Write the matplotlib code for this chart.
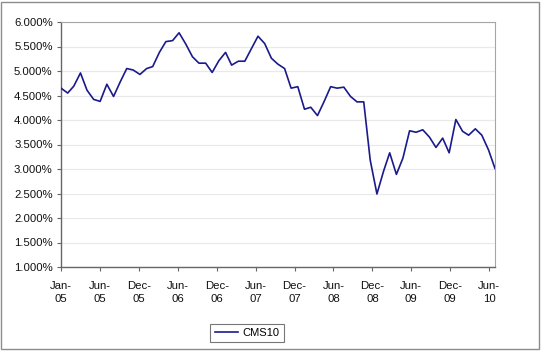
import matplotlib
matplotlib.use("Agg")
import matplotlib.pyplot as plt
import matplotlib.dates as mdates
from matplotlib.patches import Rectangle
from matplotlib.ticker import FuncFormatter, MultipleLocator
import numpy as np
import pandas as pd
import datetime as dt

plt.rcParams['font.family'] = ['Liberation Sans', 'DejaVu Sans']

start_month = "2005-01-01"
n_months = 67
series_name = "CMS10"
cms10 = [4.65, 4.55, 4.69, 4.96, 4.61, 4.42, 4.38, 4.73, 4.48, 4.77,
         5.05, 5.02, 4.93, 5.05, 5.09, 5.38, 5.60, 5.62, 5.78, 5.55,
         5.29, 5.16, 5.16, 4.97, 5.21, 5.38, 5.12, 5.20, 5.20, 5.46,
         5.71, 5.56, 5.26, 5.14, 5.05, 4.65, 4.68, 4.22, 4.26, 4.09,
         4.37, 4.68, 4.65, 4.67, 4.48, 4.37, 4.37, 3.18, 2.49, 2.96,
         3.33, 2.89, 3.22, 3.78, 3.75, 3.80, 3.65, 3.44, 3.63, 3.33,
         4.01, 3.77, 3.69, 3.82, 3.69, 3.39, 3.01]
y_min, y_max, y_step = 1.0, 6.0, 0.5
tick_days = 180

dates = pd.date_range(start_month, periods=n_months, freq="MS")

fig = plt.figure(figsize=(5.46, 3.51), dpi=100)
fig.patch.set_facecolor("white")
fig.patches.append(Rectangle((1/546, 2/351), 538/546, 347/351, transform=fig.transFigure,
                             fill=False, edgecolor="#8c8c8c", linewidth=1.0, zorder=0))

ax = fig.add_axes([61/546, 84/351, 434/546, 245/351])
ax.plot(dates, cms10, color="#1a1a8c", linewidth=1.2, label=series_name, zorder=3)

ax.set_ylim(y_min, y_max)
ax.yaxis.set_major_locator(MultipleLocator(y_step))
ax.yaxis.set_major_formatter(FuncFormatter(lambda v, p: f"{v:.3f}%"))
ax.grid(axis="y", color="#e9e9e9", linewidth=0.9, zorder=0)

x0 = dates[0].to_pydatetime()
x1 = dates[-1].to_pydatetime()
ax.set_xlim(x0, x1)
ticks = []
t = x0
while t <= x1:
    ticks.append(t)
    t = t + dt.timedelta(days=tick_days)
ax.set_xticks(ticks)
ax.set_xticklabels([d.strftime("%b-\n%y") for d in ticks])

for lbl in ax.get_xticklabels() + ax.get_yticklabels():
    lbl.set_fontsize(8.2)
    lbl.set_color("#111111")
for lbl in ax.get_xticklabels():
    lbl.set_linespacing(1.45)

ax.tick_params(axis="both", direction="out", length=3, width=0.8, color="#666666")
ax.tick_params(axis="x", pad=7)
ax.tick_params(axis="y", pad=3)

ax.spines["left"].set_color("#666666")
ax.spines["bottom"].set_color("#666666")
ax.spines["left"].set_linewidth(1.0)
ax.spines["bottom"].set_linewidth(1.0)
ax.spines["top"].set_color("#a6a6a6")
ax.spines["right"].set_color("#a6a6a6")

leg = ax.legend(loc="center", bbox_to_anchor=(247/546, 18/351), bbox_transform=fig.transFigure,
                fontsize=8, frameon=True, fancybox=False, edgecolor="#555555",
                handlelength=2.1, handletextpad=0.35, borderpad=0.4, borderaxespad=0)
leg.get_frame().set_linewidth(0.8)

fig.savefig("out.png", dpi=100, facecolor="white")
